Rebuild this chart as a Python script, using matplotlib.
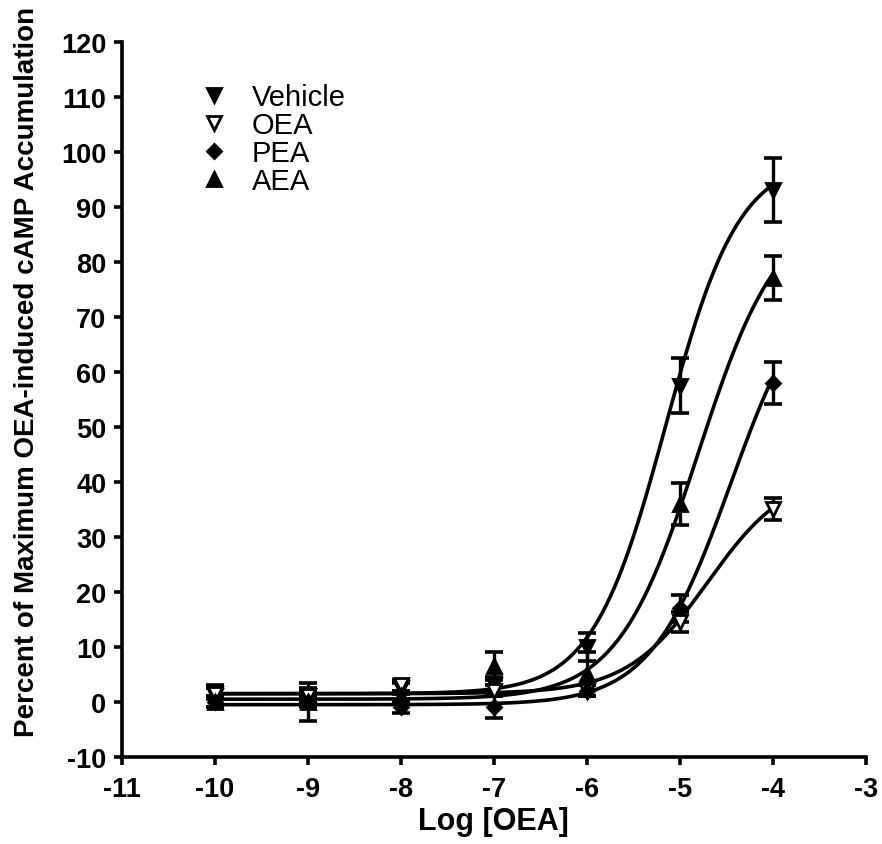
import numpy as np
import matplotlib
matplotlib.use("Agg")
import matplotlib.pyplot as plt

plt.rcParams['font.family'] = ['Liberation Sans', 'DejaVu Sans']
plt.rcParams['axes.unicode_minus'] = False

# log concentrations
log_conc = [-10, -9, -8, -7, -6, -5, -4]

# mean responses and SEM
vehicle = [1.0, 1.0, 2.5, 3.0, 10.0, 57.5, 93.0]
vehicle_err = [2.0, 1.5, 1.0, 1.5, 2.5, 5.0, 5.8]
oea = [1.5, 1.0, 3.0, 2.0, 2.0, 14.5, 35.0]
oea_err = [1.0, 1.0, 1.0, 1.0, 1.0, 1.8, 2.0]
pea = [0.0, 0.0, -1.0, -1.0, 2.0, 17.0, 58.0]
pea_err = [1.0, 3.5, 1.0, 2.0, 1.0, 2.5, 3.8]
aea = [0.0, 0.0, 1.0, 6.5, 5.0, 36.0, 77.0]
aea_err = [1.0, 1.0, 1.0, 2.5, 4.0, 3.8, 4.0]

# fitted sigmoid params: bottom, top, logEC50, hill
vehicle_fit = [1.5, 99.0, -5.15, 1.1]
oea_fit = [1.5, 42.0, -4.70, 1.0]
pea_fit = [-0.5, 80.0, -4.45, 1.0]
aea_fit = [0.5, 90.0, -4.80, 1.0]

labels = ['Vehicle', 'OEA', 'PEA', 'AEA']


def sigmoid(x, p):
    bottom, top, ec50, hill = p
    return bottom + (top - bottom) / (1 + 10 ** ((ec50 - x) * hill))


fig = plt.figure(figsize=(8.82, 8.45), dpi=100)
ax = fig.add_axes([0.138, 0.103, 0.8435, 0.8465])

xs = np.linspace(-10, -4, 300)
series = [
    (vehicle, vehicle_err, vehicle_fit, dict(marker='v', mfc='black')),
    (oea, oea_err, oea_fit, dict(marker='v', mfc='white')),
    (pea, pea_err, pea_fit, dict(marker='D', mfc='black', ms=7.5)),
    (aea, aea_err, aea_fit, dict(marker='^', mfc='black')),
]

handles = []
for (y, err, fit, style), lab in zip(series, labels):
    ax.plot(xs, sigmoid(xs, fit), color='black', lw=2.6, zorder=2)
    ms = style.pop('ms', 10)
    ax.errorbar(log_conc, y, yerr=err, fmt='none', ecolor='black',
                elinewidth=2.4, capsize=6.5, capthick=2.6, zorder=3)
    h, = ax.plot(log_conc, y, ls='none', mec='black', mew=2, ms=ms,
                 zorder=4, label=lab, **style)
    handles.append(h)

ax.set_xlim(-11, -3)
ax.set_ylim(-10, 120)
ax.set_xticks(range(-11, -2))
ax.set_yticks(range(-10, 121, 10))

for s in ['top', 'right']:
    ax.spines[s].set_visible(False)
for s in ['left', 'bottom']:
    ax.spines[s].set_linewidth(2.6)
ax.tick_params(width=2.6, length=6, labelsize=19.5)
ax.tick_params(axis='y', pad=5)
ax.tick_params(axis='x', pad=8)
for t in ax.get_xticklabels() + ax.get_yticklabels():
    t.set_fontweight('bold')

ax.set_xlabel('Log [OEA]', fontsize=22, fontweight='bold')
ax.set_ylabel('Percent of Maximum OEA-induced cAMP Accumulation',
              fontsize=20, fontweight='bold')
ax.xaxis.set_label_coords(0.5, -0.068)
ax.yaxis.set_label_coords(-0.110, 0.54)

ax.legend(handles=handles, loc='upper left', bbox_to_anchor=(0.085, 0.958),
          frameon=False, fontsize=21, handletextpad=0.7, labelspacing=0.0,
          handlelength=1.2, borderaxespad=0)

fig.savefig('out.png', dpi=100)
